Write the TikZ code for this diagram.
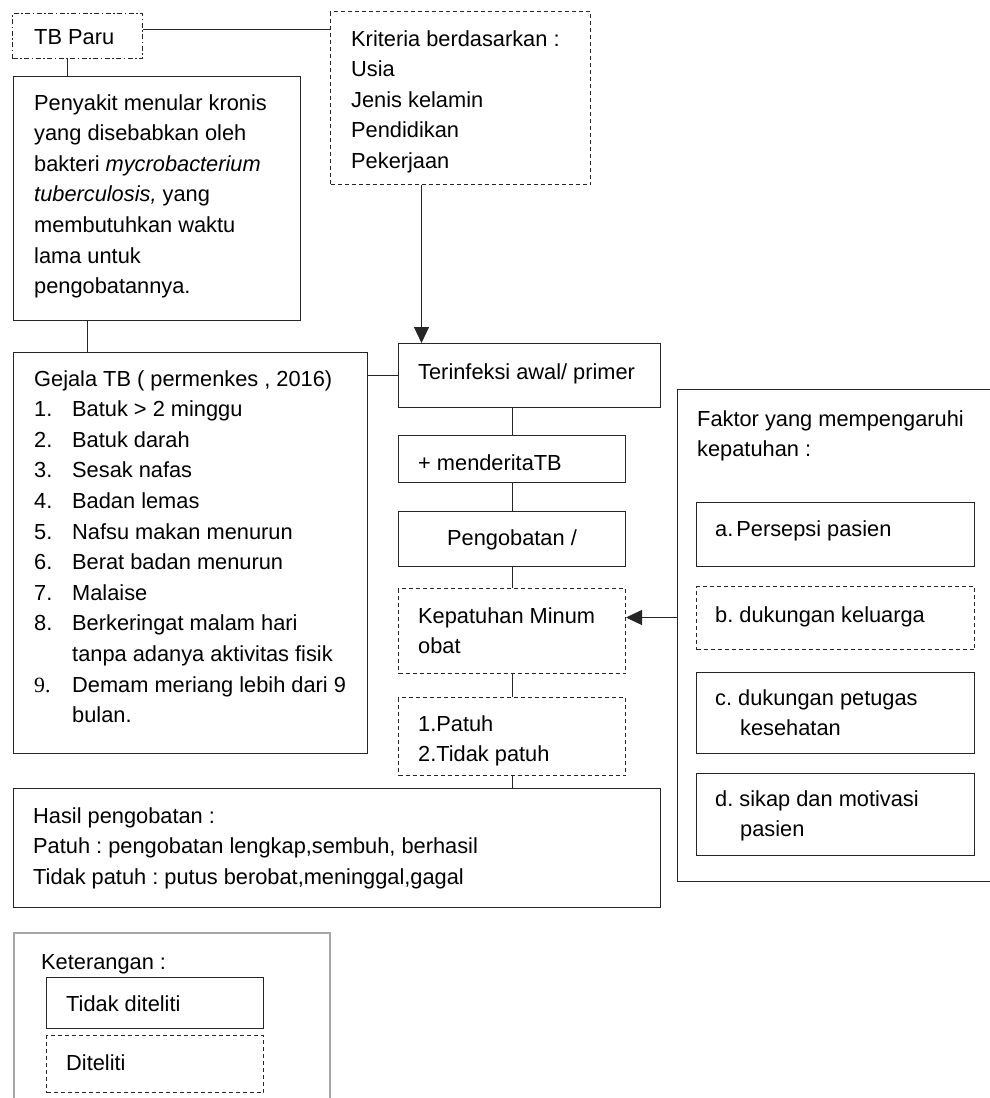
\documentclass[tikz,border=0pt]{standalone}
\usepackage{fontspec}
\setmainfont{Liberation Sans}
\newfontfamily\serifnum{Liberation Serif}
\usetikzlibrary{arrows.meta}
\frenchspacing
\newcommand\fs{\fontsize{21.8pt}{30.6pt}\selectfont}
\newcommand\itm[2]{\makebox[38pt][l]{#1}#2}
\tikzset{
  bx/.style={draw=black!85, line width=1pt, inner sep=0pt, anchor=north west},
  dbx/.style={bx, dash pattern=on 4pt off 3pt},
  ddbx/.style={bx, dash pattern=on 5pt off 2.5pt on 1.5pt off 2.5pt},
  txt/.style={font=\fs, align=left, inner sep=0pt, anchor=north west},
  conn/.style={draw=black!85, line width=1pt},
  arr/.style={conn, -{Triangle[length=16pt,width=15pt]}},
}
\begin{document}
\begin{tikzpicture}[x=1pt,y=-1pt]
\useasboundingbox (0,0) rectangle (989,1098);
% boxes
\node[ddbx, minimum width=130pt, minimum height=45pt] (tb) at (12,13) {};
\node[dbx, minimum width=260pt, minimum height=173pt] (kri) at (330,11) {};
\node[bx, minimum width=287pt, minimum height=244pt] (pen) at (13,76) {};
\node[bx, minimum width=354pt, minimum height=401pt] (gej) at (13,352) {};
\node[bx, minimum width=262pt, minimum height=64pt] (ter) at (398,343) {};
\node[bx, minimum width=227pt, minimum height=47pt] (men) at (398,435) {};
\node[bx, minimum width=227pt, minimum height=55pt] (peng) at (398,511) {};
\node[dbx, minimum width=227pt, minimum height=85pt] (kep) at (398,588) {};
\node[dbx, minimum width=227pt, minimum height=78pt] (pat) at (398,697) {};
\node[bx, minimum width=647pt, minimum height=119pt] (has) at (13,788) {};
\node[bx, minimum width=320pt, minimum height=492pt] (fak) at (677,389) {};
\node[bx, minimum width=278pt, minimum height=64pt] (fa) at (696,502) {};
\node[dbx, minimum width=278pt, minimum height=63pt] (fb) at (696,586) {};
\node[bx, minimum width=278pt, minimum height=81pt] (fc) at (696,672) {};
\node[bx, minimum width=278pt, minimum height=82pt] (fd) at (696,773) {};
\node[bx, draw=black!35, line width=2pt, minimum width=316pt, minimum height=180pt] (leg) at (13,932) {};
\node[bx, minimum width=217pt, minimum height=51pt] (lt) at (46,977) {};
\node[dbx, minimum width=217pt, minimum height=57pt] (ld) at (46,1035) {};
% texts
\node[txt] (ttb) at (34,29) {TB Paru};
\node[txt] (tkri) at (351,30) {Kriteria berdasarkan :\\Usia\\Jenis kelamin\\Pendidikan\\Pekerjaan};
\node[txt] (tpen) at (34,94) {Penyakit menular kronis\\yang disebabkan oleh\\bakteri \textit{mycrobacterium}\\\textit{tuberculosis,} yang\\membutuhkan waktu\\lama untuk\\pengobatannya.};
\node[txt] (tgej) at (34,370) {Gejala TB ( permenkes , 2016)\\
\itm{1.}{Batuk > 2 minggu}\\
\itm{2.}{Batuk darah}\\
\itm{3.}{Sesak nafas}\\
\itm{4.}{Badan lemas}\\
\itm{5.}{Nafsu makan menurun}\\
\itm{6.}{Berat badan menurun}\\
\itm{7.}{Malaise}\\
\itm{8.}{Berkeringat malam hari}\\
\itm{}{tanpa adanya aktivitas fisik}\\
\itm{{\serifnum 9.}}{Demam meriang lebih dari 9}\\
\itm{}{bulan.}};
\node[txt] (tter) at (418,363) {Terinfeksi awal/ primer};
\node[txt] (tmen) at (418,454) {+ menderitaTB};
\node[txt, anchor=north] (tpeng) at (512,529) {Pengobatan /};
\node[txt] (tkep) at (418,607) {Kepatuhan Minum\\obat};
\node[txt] (tpat) at (418,715) {1.Patuh\\2.Tidak patuh};
\node[txt] (thas) at (33,807) {Hasil pengobatan :\\Patuh : pengobatan lengkap,sembuh, berhasil\\Tidak patuh : putus berobat,meninggal,gagal};
\node[txt] (tfak) at (697,410) {Faktor yang mempengaruhi\\kepatuhan :};
\node[txt] (tfa) at (715,520) {a.\hspace{3pt}Persepsi pasien};
\node[txt] (tfb) at (715,606) {b. dukungan keluarga};
\node[txt] (tfc) at (715,689) {c. dukungan petugas\\\hspace*{25pt}kesehatan};
\node[txt] (tfd) at (715,790) {d. sikap dan motivasi\\\hspace*{25pt}pasien};
\node[txt] (tleg) at (41,954) {Keterangan :};
\node[txt] (tlt) at (66,995) {Tidak diteliti};
\node[txt] (tld) at (66,1054) {Diteliti};
% connectors
\draw[conn] ([yshift=6.5pt]tb.east) -- ([yshift=6.5pt]tb.east -| kri.west);
\draw[conn] ([xshift=-10pt]tb.south) -- ([xshift=-10pt]tb.south |- pen.north);
\draw[conn] ([xshift=-69.5pt]pen.south) -- ([xshift=-69.5pt]pen.south |- gej.north);
\draw[conn] (gej.east |- ter.west) -- (ter.west);
\draw[arr] ([xshift=-39pt]kri.south) -- ([xshift=-39pt]kri.south |- ter.north);
\draw[conn] (men.north |- ter.south) -- (men.north);
\draw[conn] (men.south) -- (peng.north);
\draw[conn] (peng.south) -- (kep.north);
\draw[conn] (kep.south) -- (pat.north);
\draw[conn] (pat.south) -- (pat.south |- has.north);
\draw[arr] ([yshift=13.5pt]kep.east -| fak.west) -- ([yshift=13.5pt]kep.east);
\end{tikzpicture}
\end{document}
